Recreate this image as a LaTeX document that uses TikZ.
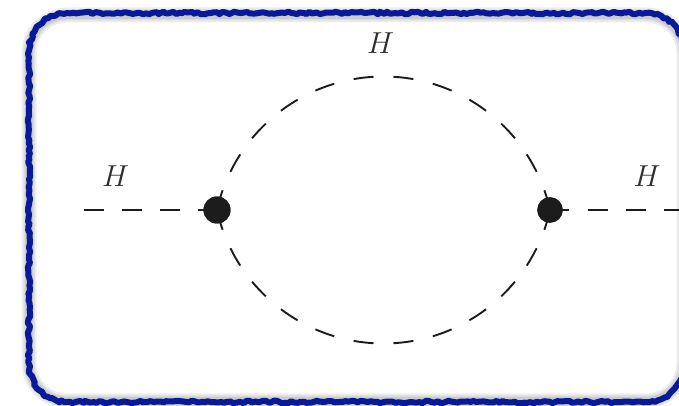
\documentclass[tikz,border=0pt]{standalone}
\usetikzlibrary{decorations.pathmorphing}
\definecolor{frameblue}{HTML}{061A9A}
\definecolor{ink}{HTML}{1C1C1C}
\definecolor{labelink}{HTML}{2E2E2E}
\newcommand{\framepath}[4]{% left, bottom, right, top
  (#1+38,#2) -- (#3-38,#2) arc[start angle=270,end angle=360,radius=38pt]
  -- (#3,#4-38) arc[start angle=0,end angle=90,radius=38pt]
  -- (#1+38,#4) arc[start angle=90,end angle=180,radius=38pt]
  -- (#1,#2+38) arc[start angle=180,end angle=270,radius=38pt] -- cycle}
\tikzset{
  x=1pt,y=1pt,
  frameline/.style={draw=frameblue,line width=6pt,line join=round,
    decorate,decoration={random steps,segment length=3.2pt,amplitude=1.3pt}},
  frameglow/.style={draw=black,opacity=0.07},
  vertexdot/.style={circle,fill=ink,inner sep=0pt,minimum size=#1},
  scalar/.style={draw=ink,line width=1.9pt,dash pattern=on 19.5pt off 18.5pt},
  loopline/.style={draw=ink,line width=1.9pt,dash pattern=on 20pt off 20pt,dash phase=30pt},
  hlabel/.style={text=labelink,inner sep=0pt,scale=1.22,font=\Huge},
}
\begin{document}
\begin{tikzpicture}
\useasboundingbox[clip] (0,0) rectangle (679,406);
\fill[white] (0,0) rectangle (679,406);
% frame with soft shadow
\foreach \w in {15,11,8}{
  \draw[frameglow,line width=\w pt] \framepath{29}{5}{684}{391};
}
\draw[frameline] \framepath{29}{4}{684}{393};
% anchors
\node[vertexdot=27pt] (L) at (217,196) {};
\node[vertexdot=25.5pt] (R) at (550,196) {};
\coordinate (inL) at (84,196);
\coordinate (outR) at (679,196);
\coordinate (top) at (383.5,329.5);
\coordinate (bot) at (383.5,62.5);
% loop: two circular arcs meeting at the vertices
\draw[loopline] (top) arc[start angle=90,end angle=167.44,radius=170.6];
\draw[loopline] (top) arc[start angle=90,end angle=12.56,radius=170.6];
\draw[loopline] (bot) arc[start angle=270,end angle=192.56,radius=170.6];
\draw[loopline] (bot) arc[start angle=270,end angle=347.44,radius=170.6];
% external legs
\draw[scalar] (inL) -- (L.center);
\draw[scalar] (R.center) ++(38,0) -- (outR);
\draw[draw=ink,line width=1.9pt] (R.center) -- ++(19,0);
\node[vertexdot=27pt] at (L) {};
\node[vertexdot=25.5pt] at (R) {};
% labels
\node[hlabel] (h1) at (115.5,229.5) {$H$};
\node[hlabel] (h2) at (380.5,362.5) {$H$};
\node[hlabel] (h3) at (647,229.5) {$H$};
\end{tikzpicture}
\end{document}
